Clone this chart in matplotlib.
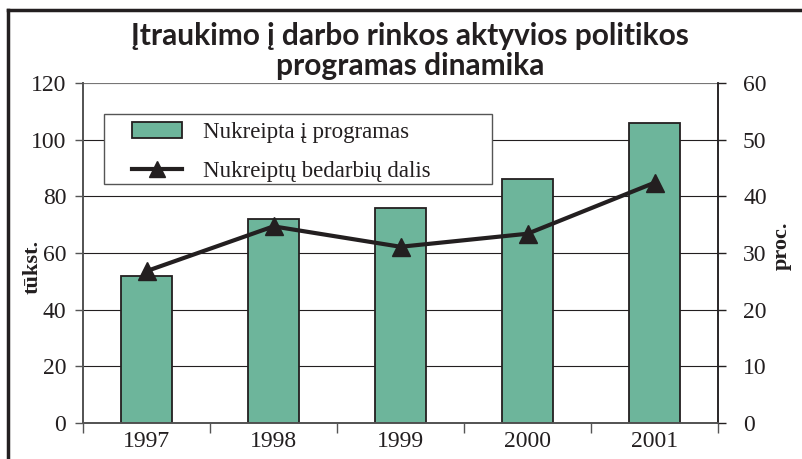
import matplotlib

matplotlib.use("Agg")
import matplotlib.pyplot as plt  # noqa: E402
from matplotlib.lines import Line2D  # noqa: E402
from matplotlib.patches import Patch, Rectangle  # noqa: E402

YEARS = ["1997", "1998", "1999", "2000", "2001"]
REFERRED = [52, 72, 76, 86, 106]          # tūkst., left axis
SHARE = [26.8, 34.7, 31.1, 33.4, 42.4]    # proc., right axis

TITLE = "Įtraukimo į darbo rinkos aktyvios politikos\nprogramas dinamika"
BAR_LABEL = "Nukreipta į programas"
LINE_LABEL = "Nukreiptų bedarbių dalis"

INK = "#231f20"
GREEN = "#6db59b"
SERIF = ["Liberation Serif", "DejaVu Serif"]

fig = plt.figure(figsize=(8.02, 4.59), dpi=100)
ax = fig.add_axes([83 / 802, 1 - 423 / 459, 635 / 802, 340 / 459])
ax2 = ax.twinx()

x = list(range(len(YEARS)))
ax.bar(x, REFERRED, width=0.4, color=GREEN, edgecolor=INK, linewidth=1.3, zorder=3)
ax2.plot(x, SHARE, color=INK, linewidth=3, marker="^", markersize=13, zorder=4)

ax.set_xlim(-0.5, len(YEARS) - 0.5)
ax.set_ylim(0, 120)
ax2.set_ylim(0, 60)
ax.set_yticks(range(0, 121, 20))
ax2.set_yticks(range(0, 61, 10))
ax.set_xticks([i - 0.5 for i in range(len(YEARS) + 1)], minor=False)
ax.set_xticklabels([])
ax.set_xticks(x, minor=True)
ax.set_xticklabels(YEARS, minor=True)
ax.tick_params(axis="x", which="major", length=7, width=1, color="#555555", direction="out")
ax.tick_params(axis="x", which="minor", length=0, pad=6)
ax.tick_params(axis="y", length=6, width=1, color="#555555", pad=6)
ax2.tick_params(axis="y", length=6, width=1, color=INK, pad=12)

for lab in ax.get_xticklabels(minor=True) + ax.get_yticklabels() + ax2.get_yticklabels():
    lab.set_family(SERIF)
    lab.set_fontsize(17)
    lab.set_color(INK)

ax.yaxis.grid(True, color=INK, linewidth=0.8, zorder=0)
ax.set_axisbelow(True)
for a in (ax, ax2):
    a.spines["top"].set_visible(False)
    a.spines["left"].set_color("#555555")
    a.spines["bottom"].set_color("#555555")
    a.spines["left"].set_linewidth(1.3)
    a.spines["bottom"].set_linewidth(1.3)
    a.spines["right"].set_color(INK)
    a.spines["right"].set_linewidth(1.1)
ax.axhline(120, color="#888888", linewidth=1.2, zorder=1)

ax.set_ylabel("tūkst.", family=SERIF, fontsize=16, fontweight="bold", color=INK)
ax.yaxis.set_label_coords(-0.064, 0.46)
ax2.set_ylabel("proc.", family=SERIF, fontsize=16, fontweight="bold", color=INK)
ax2.yaxis.set_label_coords(1.085, 0.52)

# legend: box drawn separately so padding can differ per direction
ax.add_patch(Rectangle((0.033, 0.703), 0.611, 0.206, transform=ax.transAxes,
                       facecolor="white", edgecolor="#555555", linewidth=1.0, zorder=5))
handles = [
    Patch(facecolor=GREEN, edgecolor=INK, linewidth=1.3, label=BAR_LABEL),
    Line2D([], [], color=INK, linewidth=3, marker="^", markersize=12, label=LINE_LABEL),
]
leg = ax.legend(handles=handles, loc="upper left", bbox_to_anchor=(0.07, 0.9),
                frameon=False, prop={"family": SERIF, "size": 16.5}, handlelength=2.2,
                handletextpad=0.9, labelspacing=0.8, borderpad=0.2, borderaxespad=0)
leg.set_zorder(6)
for t in leg.get_texts():
    t.set_color(INK)

fig.text(410 / 802, 1 - 51 / 459, TITLE, ha="center", va="center", family="Lato",
         fontweight="bold", fontsize=21.5, color=INK, linespacing=1.05)

# outer frame: left and top edges only
fig.add_artist(Line2D([8 / 802, 8 / 802], [0, 1 - 10 / 459], color=INK, linewidth=2.5,
                      transform=fig.transFigure))
fig.add_artist(Line2D([8 / 802, 1], [1 - 10 / 459, 1 - 10 / 459], color=INK, linewidth=2.5,
                      transform=fig.transFigure))

fig.savefig("out.png", dpi=100, facecolor="white")
